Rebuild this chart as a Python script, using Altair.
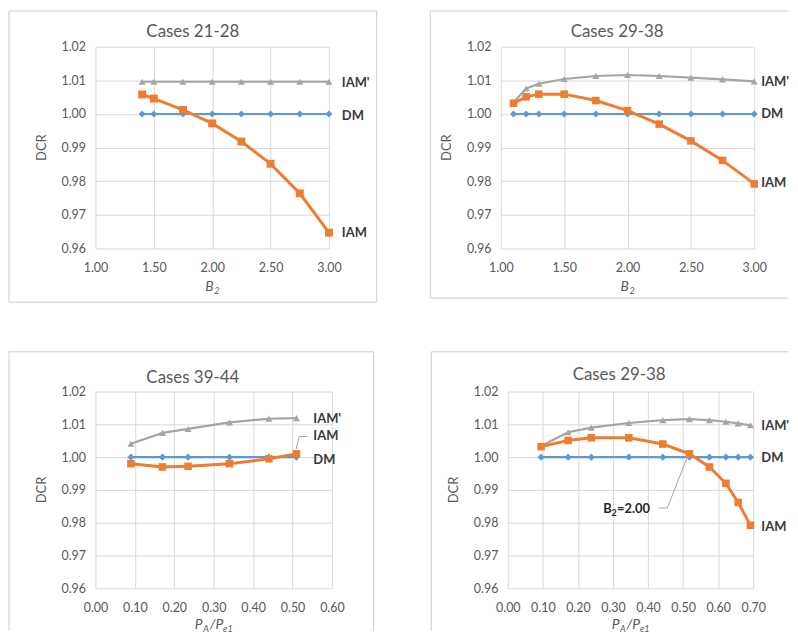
import altair as alt
import pandas as pd

FONT = "Lato"

# ---------------- data ----------------
# Panel A: Cases 21-28 (x = B2)
b2_a = [1.40, 1.50, 1.75, 2.00, 2.25, 2.50, 2.75, 3.00]
dm_a = [1.000, 1.000, 1.000, 1.000, 1.000, 1.000, 1.000, 1.000]
iam_a = [1.0058, 1.0046, 1.0012, 0.9972, 0.9918, 0.9852, 0.9764, 0.9647]
iamp_a = [1.0096, 1.0096, 1.0096, 1.0096, 1.0096, 1.0096, 1.0096, 1.0096]

# Panel B: Cases 29-38 (x = B2)
b2_b = [1.10, 1.20, 1.30, 1.50, 1.75, 2.00, 2.25, 2.50, 2.75, 3.00]
dm_b = [1.000, 1.000, 1.000, 1.000, 1.000, 1.000, 1.000, 1.000, 1.000, 1.000]
iam_b = [1.0032, 1.0051, 1.0059, 1.0059, 1.0040, 1.0010, 0.9970, 0.9920, 0.9862, 0.9792]
iamp_b = [1.0034, 1.0076, 1.0090, 1.0104, 1.0113, 1.0116, 1.0113, 1.0108, 1.0103, 1.0097]

# Panel C: Cases 39-44 (x = PA/Pe1)
ratio_c = [0.09, 0.17, 0.235, 0.34, 0.44, 0.51]
dm_c = [1.000, 1.000, 1.000, 1.000, 1.000, 1.000]
iam_c = [0.9980, 0.9970, 0.9972, 0.9980, 0.9995, 1.0010]
iamp_c = [1.0041, 1.0074, 1.0086, 1.0106, 1.0117, 1.0119]

# Panel D: Cases 29-38 (x = PA/Pe1)
ratio_d = [0.095, 0.172, 0.238, 0.345, 0.442, 0.518, 0.575, 0.622, 0.657, 0.692]
dm_d = [1.000, 1.000, 1.000, 1.000, 1.000, 1.000, 1.000, 1.000, 1.000, 1.000]
iam_d = [1.0032, 1.0051, 1.0059, 1.0059, 1.0040, 1.0010, 0.9970, 0.9920, 0.9862, 0.9792]
iamp_d = [1.0034, 1.0076, 1.0090, 1.0104, 1.0113, 1.0116, 1.0113, 1.0108, 1.0103, 1.0097]

y_ticks = [0.96, 0.97, 0.98, 0.99, 1.00, 1.01, 1.02]
b2_ticks = [1.00, 1.50, 2.00, 2.50, 3.00]
ratio_ticks_c = [0.0, 0.1, 0.2, 0.3, 0.4, 0.5, 0.6]
ratio_ticks_d = [0.0, 0.1, 0.2, 0.3, 0.4, 0.5, 0.6, 0.7]

# end-of-line labels (text, x, y)
labels_a = [("IAM'", 3.00, 1.0093), ("DM", 3.00, 0.9993), ("IAM", 3.00, 0.9645)]
labels_b = [("IAM'", 3.00, 1.0096), ("DM", 3.00, 1.0000), ("IAM", 3.00, 0.9794)]
labels_c = [("IAM'", 0.51, 1.0116), ("IAM", 0.51, 1.0064), ("DM", 0.51, 0.9990)]
labels_d = [("IAM'", 0.692, 1.0095), ("DM", 0.692, 0.9998), ("IAM", 0.692, 0.9788)]

# leader lines
leader_c_x = [0.509, 0.517, 0.537]
leader_c_y = [1.0024, 1.0063, 1.0063]
leader_d_x = [0.430, 0.455, 0.513]
leader_d_y = [0.9845, 0.9845, 1.0003]
note_d = (0.340, 0.9843)

STYLE = {
    "DM": dict(color="#5B9BD5", shape="diamond", size=50, width=2.2),
    "IAM'": dict(color="#A5A5A5", shape="triangle-up", size=50, width=2.2),
    "IAM": dict(color="#ED7D31", shape="square", size=58, width=3.0),
}
GRID = "#D9D9D9"
FRAME = "#D0CECE"
TXT = "#595959"
LBL = "#3A3A3A"

one = pd.DataFrame({"k": [0]})


def fixed_text(text, x, y, **kw):
    props = dict(font=FONT, color=TXT, fontSize=13)
    props.update(kw)
    return alt.Chart(one).mark_text(text=text, **props).encode(
        x=alt.value(x), y=alt.value(y))


def panel(xs, series, W, H, xdom, xticks, frame, title, title_xy,
          xtitle_parts, xtitle_dy, labels, label_dx, point_sizes=None,
          extras=None):
    xenc = alt.X("x:Q", scale=alt.Scale(domain=xdom, nice=False, zero=False),
                 axis=alt.Axis(values=xticks, format=".2f", title=None))
    yenc = alt.Y("y:Q", scale=alt.Scale(domain=[0.96, 1.02], nice=False, zero=False),
                 axis=alt.Axis(values=y_ticks, format=".2f", title=None))
    layers = []
    # chart-area frame
    fl, fr, ft, fb, edges = frame
    if "top" in edges:
        layers.append(alt.Chart(one).mark_rule(color=FRAME, strokeWidth=1).encode(
            x=alt.value(fl), x2=alt.value(fr), y=alt.value(ft)))
    if "bottom" in edges:
        layers.append(alt.Chart(one).mark_rule(color=FRAME, strokeWidth=1).encode(
            x=alt.value(fl), x2=alt.value(fr), y=alt.value(fb)))
    if "left" in edges:
        layers.append(alt.Chart(one).mark_rule(color=FRAME, strokeWidth=1).encode(
            x=alt.value(fl), y=alt.value(ft), y2=alt.value(fb)))
    if "right" in edges:
        layers.append(alt.Chart(one).mark_rule(color=FRAME, strokeWidth=1).encode(
            x=alt.value(fr), y=alt.value(ft), y2=alt.value(fb)))

    # series
    for name, ys in series:
        st = STYLE[name]
        d = pd.DataFrame({"x": xs, "y": ys})
        layers.append(alt.Chart(d).mark_line(color=st["color"], strokeWidth=st["width"]).encode(
            x=xenc, y=yenc))
        size = st["size"] if not point_sizes or name not in point_sizes else point_sizes[name]
        layers.append(alt.Chart(d).mark_point(shape=st["shape"], filled=True, opacity=1,
                                              size=size, color=st["color"]).encode(x=xenc, y=yenc))

    # extra (leader lines / notes)
    for ex in (extras or []):
        layers.append(ex(xenc, yenc))

    # end labels
    for t, lx, ly in labels:
        d = pd.DataFrame({"x": [lx], "y": [ly], "t": [t]})
        layers.append(alt.Chart(d).mark_text(align="left", dx=label_dx, font=FONT, fontSize=13,
                                             fontWeight="bold", color=LBL).encode(
            x=xenc, y=yenc, text="t:N"))

    # title
    layers.append(fixed_text(title, title_xy[0], title_xy[1], fontSize=17))
    # y title
    layers.append(fixed_text("DCR", -54, H / 2, angle=270, fontSize=13))
    # x title (with subscripts)
    for t, dx, dy, fs in xtitle_parts:
        layers.append(fixed_text(t, W / 2 + dx, H + xtitle_dy + dy, align="left",
                                 fontStyle="italic", fontSize=fs))

    return alt.layer(*layers).properties(width=W, height=H)


B2_TITLE = [("B", -7, 0, 14), ("2", 2, 4, 9)]
PA_TITLE = [("P", -19, 0, 14), ("A", -10.5, 4, 9), ("/P", -4, 0, 14), ("e1", 9.5, 4, 9)]


def leader(xv, yv):
    def f(xenc, yenc):
        d = pd.DataFrame({"x": xv, "y": yv})
        return alt.Chart(d).mark_line(color="#A5A5A5", strokeWidth=1).encode(x=xenc, y=yenc)
    return f


def note_b2(pos):
    def f(xenc, yenc):
        parts = [("B", -24, 0, 13), ("2", -15.5, 4, 9), ("=2.00", -10, 0, 13)]
        ls = []
        for t, dx, dy, fs in parts:
            d = pd.DataFrame({"x": [pos[0]], "y": [pos[1]]})
            ls.append(alt.Chart(d).mark_text(text=t, align="left", dx=dx, dy=dy, font=FONT,
                                             fontSize=fs, fontWeight="bold", color="#262626").encode(
                x=xenc, y=yenc))
        return alt.layer(*ls)
    return f


pA = panel(b2_a, [("DM", dm_a), ("IAM'", iamp_a), ("IAM", iam_a)], 235, 203,
           [1.0, 3.0], b2_ticks, (-87, 283, -36, 257, ("top", "bottom", "left", "right")),
           "Cases 21-28", (98, -15), B2_TITLE, 39, labels_a, 13,
           point_sizes={"IAM": 64})
pB = panel(b2_b, [("DM", dm_b), ("IAM'", iamp_b), ("IAM", iam_b)], 255, 203,
           [1.0, 3.0], b2_ticks, (-71, 289, -36, 253, ("top", "bottom", "left")),
           "Cases 29-38", (117, -15), B2_TITLE, 39, labels_b, 7)
pC = panel(ratio_c, [("DM", dm_c), ("IAM'", iamp_c), ("IAM", iam_c)], 238, 198,
           [0.0, 0.6], ratio_ticks_c, (-87, 280, -40, 241, ("top", "left", "right")),
           "Cases 39-44", (98, -14), PA_TITLE, 37, labels_c, 17,
           extras=[leader(leader_c_x, leader_c_y)])
pD = panel(ratio_d, [("DM", dm_d), ("IAM'", iamp_d), ("IAM", iam_d)], 247, 198,
           [0.0, 0.7], ratio_ticks_d, (-77, 282, -40, 241, ("top", "left")),
           "Cases 29-38", (112, -17), PA_TITLE, 37, labels_d, 11,
           extras=[leader(leader_d_x, leader_d_y), note_b2(note_d)])

chart = alt.vconcat(
    alt.hconcat(pA, pB, spacing=52),
    alt.hconcat(pC, pD, spacing=56),
    spacing=48,
).properties(
    padding={"left": 0, "top": 0, "right": 0, "bottom": 0},
    autosize=alt.AutoSizeParams(type="pad", contains="padding"),
).configure_view(stroke=None).configure_axis(
    grid=True, gridColor=GRID, gridWidth=1, domain=False, ticks=False, tickSize=0,
    labelFont=FONT, labelFontSize=12.5, labelColor=TXT, labelOverlap=False, labelFlush=False,
).configure_axisX(labelPadding=13).configure_axisY(labelPadding=10)

chart.save("out.html", embed_options={"renderer": "svg", "actions": False})
